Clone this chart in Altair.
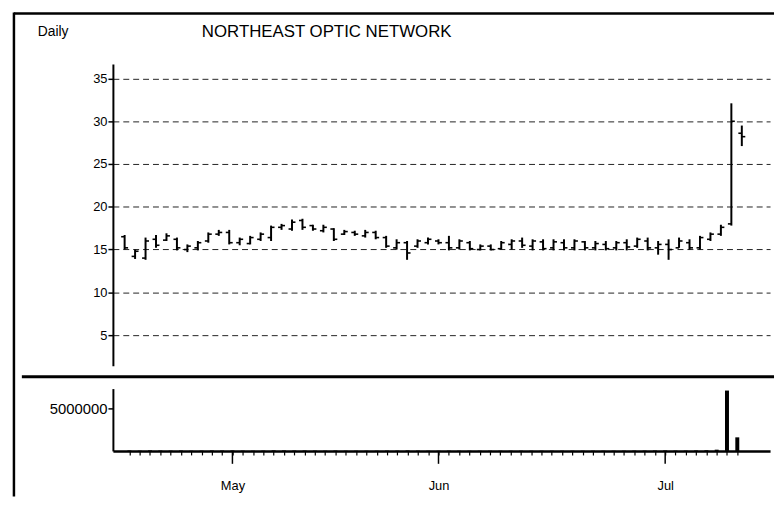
import altair as alt
import pandas as pd

# ---------------- data ----------------
day_idx = list(range(60))  # trading days, Apr 17 .. Jul 13 (1998)
highs = [16.7, 15.0, 16.4, 16.7, 16.9, 16.4, 15.6, 16.0, 17.0, 17.3,
         17.3, 16.4, 16.6, 17.0, 17.8, 18.0, 18.5, 18.6, 17.9, 17.9,
         17.5, 17.3, 17.2, 17.3, 17.2, 16.6, 16.2, 16.0, 16.2, 16.4,
         16.2, 16.6, 16.2, 16.0, 15.6, 15.6, 16.0, 16.2, 16.4, 16.2,
         16.2, 16.2, 16.2, 16.2, 16.0, 16.0, 16.0, 16.0, 16.2, 16.4,
         16.4, 16.0, 16.2, 16.4, 16.2, 16.6, 17.0, 17.9, 32.1, 29.5]
lows = [15.0, 13.9, 13.8, 15.2, 16.0, 14.9, 14.7, 14.9, 15.8, 16.6,
        15.6, 15.5, 15.6, 16.0, 16.0, 17.3, 17.2, 17.3, 17.2, 17.0,
        16.0, 16.7, 16.6, 16.4, 16.2, 15.2, 15.0, 13.8, 15.2, 15.6,
        15.6, 14.9, 15.0, 14.9, 14.9, 14.9, 15.0, 15.0, 15.2, 14.9,
        14.9, 14.9, 14.9, 14.9, 14.9, 14.9, 14.9, 14.9, 14.9, 15.2,
        14.9, 14.4, 13.8, 15.2, 15.0, 15.0, 16.0, 16.6, 17.8, 27.1]
opens = [16.5, 14.2, 14.0, 16.2, 16.1, 16.2, 15.0, 15.2, 16.0, 16.8,
         17.0, 15.8, 15.7, 16.2, 16.4, 17.6, 17.4, 18.4, 17.8, 17.2,
         17.4, 16.8, 17.0, 16.6, 17.0, 16.4, 15.2, 15.8, 15.4, 15.8,
         16.0, 15.8, 15.2, 15.8, 15.0, 15.4, 15.1, 15.6, 16.0, 15.4,
         15.9, 15.2, 15.8, 15.2, 15.9, 15.2, 15.6, 15.2, 15.8, 15.4,
         16.0, 15.2, 15.6, 15.2, 15.8, 15.2, 16.2, 16.8, 18.0, 28.6]
closes = [15.2, 14.8, 16.0, 15.5, 16.6, 15.2, 15.4, 15.8, 16.8, 17.0,
          15.8, 16.2, 16.4, 16.8, 17.6, 17.8, 18.2, 17.6, 17.4, 17.6,
          16.2, 17.1, 16.8, 17.0, 16.4, 15.4, 15.8, 14.6, 16.0, 16.2,
          15.8, 15.2, 16.0, 15.1, 15.4, 15.0, 15.8, 16.0, 15.5, 16.0,
          15.1, 15.9, 15.2, 16.0, 15.2, 15.7, 15.1, 15.8, 15.3, 16.2,
          15.2, 15.6, 15.0, 16.0, 15.2, 16.4, 16.8, 17.6, 30.0, 28.2]
volumes = [60000, 40000, 70000, 50000, 40000, 50000, 30000, 40000, 60000, 50000,
           60000, 40000, 30000, 40000, 70000, 60000, 50000, 50000, 40000, 30000,
           50000, 30000, 30000, 30000, 30000, 40000, 40000, 60000, 40000, 30000,
           30000, 40000, 30000, 30000, 30000, 30000, 30000, 30000, 30000, 30000,
           30000, 30000, 30000, 30000, 30000, 30000, 30000, 30000, 30000, 40000,
           40000, 50000, 60000, 40000, 40000, 60000, 80000, 150000, 7100000, 1600000]
month_labels = ["May", "Jun", "Jul"]
month_idx = [10, 30, 52]
price_ticks = [5, 10, 15, 20, 25, 30, 35]
vol_ticks = [5000000]
title_left = "Daily"
title_main = "NORTHEAST OPTIC NETWORK"

df = pd.DataFrame({"i": day_idx, "high": highs, "low": lows,
                   "open": opens, "close": closes, "vol": volumes})
months_df = pd.DataFrame({"i": month_idx, "m": month_labels})
one = pd.DataFrame({"k": [0]})

FONT = "Liberation Sans"
W = 664
H1 = 305
H2 = 63

xs = alt.Scale(domain=[-1.12, 61.7], nice=False, zero=False)
ys = alt.Scale(domain=[1.4, 36.7], nice=False, zero=False)
vs = alt.Scale(domain=[0, 7330000], nice=False, zero=False)

base = alt.Chart(df)

price_axis = alt.Axis(values=price_ticks, title=None, grid=True,
                      gridDash=[6, 4], gridColor="#222222", gridWidth=1,
                      domainColor="black", domainWidth=2,
                      tickColor="black", tickSize=5, tickWidth=1.5,
                      labelFontSize=13, labelColor="black", labelPadding=1)

hl = base.mark_rule(color="black", strokeWidth=2).encode(
    x=alt.X("i:Q", scale=xs, axis=None),
    y=alt.Y("low:Q", scale=ys, axis=price_axis),
    y2="high:Q",
)
op = base.mark_rule(color="black", strokeWidth=1.6, xOffset=-3.5, x2Offset=0).encode(
    x=alt.X("i:Q", scale=xs, axis=None),
    x2="i:Q",
    y=alt.Y("open:Q", scale=ys, axis=price_axis),
)
cl = base.mark_rule(color="black", strokeWidth=1.6, xOffset=0, x2Offset=3.5).encode(
    x=alt.X("i:Q", scale=xs, axis=None),
    x2="i:Q",
    y=alt.Y("close:Q", scale=ys, axis=price_axis),
)

frame = alt.Chart(one)
top_border = frame.mark_rule(color="black", strokeWidth=2.5).encode(
    x=alt.value(-100), x2=alt.value(668), y=alt.value(-51))
left_border = frame.mark_rule(color="black", strokeWidth=2.5).encode(
    x=alt.value(-100), y=alt.value(-52), y2=alt.value(437))
divider = frame.mark_rule(color="black", strokeWidth=3).encode(
    x=alt.value(-92), x2=alt.value(668), y=alt.value(316))

t1 = alt.Chart(pd.DataFrame({"t": [title_left]})).mark_text(
    align="left", baseline="middle", fontSize=14, font=FONT, color="black"
).encode(text="t:N", x=alt.value(-76), y=alt.value(-32))
t2 = alt.Chart(pd.DataFrame({"t": [title_main]})).mark_text(
    align="center", baseline="middle", fontSize=17, font=FONT, color="black"
).encode(text="t:N", x=alt.value(216), y=alt.value(-32))

price = alt.layer(hl, op, cl, top_border, left_border, divider, t1, t2).properties(
    width=W, height=H1)

label_expr = " : ".join(
    [f"datum.value == {i} ? '{m}'" for i, m in zip(month_idx, month_labels)]
) + " : ''"

vol_x_axis = alt.Axis(values=day_idx, title=None, labelExpr=label_expr, grid=False,
                      labelOverlap=False, labelFlush=False,
                      domainColor="black", domainWidth=2.5,
                      tickColor="black", tickSize=4, tickWidth=1.2,
                      labelFontSize=13, labelColor="black", labelPadding=25)

vol_bars = base.mark_bar(color="black", size=4).encode(
    x=alt.X("i:Q", scale=xs, axis=vol_x_axis),
    y=alt.Y("vol:Q", scale=vs,
            axis=alt.Axis(values=vol_ticks, format="d", title=None, grid=False,
                          domainColor="black", domainWidth=2,
                          tickColor="black", tickSize=5, tickWidth=1.5,
                          labelFontSize=15, labelColor="black", labelPadding=1)),
)
month_ticks = alt.Chart(months_df).mark_rule(color="black", strokeWidth=1.5).encode(
    x=alt.X("i:Q", scale=xs, axis=vol_x_axis),
    y=alt.value(H2), y2=alt.value(H2 + 13),
)
volume = alt.layer(vol_bars, month_ticks).properties(width=W, height=H2)

chart = alt.vconcat(price, volume, spacing=23, bounds="flush").properties(
    padding={"left": 4, "top": 0, "right": 0, "bottom": 0}
).configure_view(stroke=None).configure_axis(labelFont=FONT).configure_text(font=FONT)

chart.save("out.html", embed_options={"renderer": "svg", "actions": False})
